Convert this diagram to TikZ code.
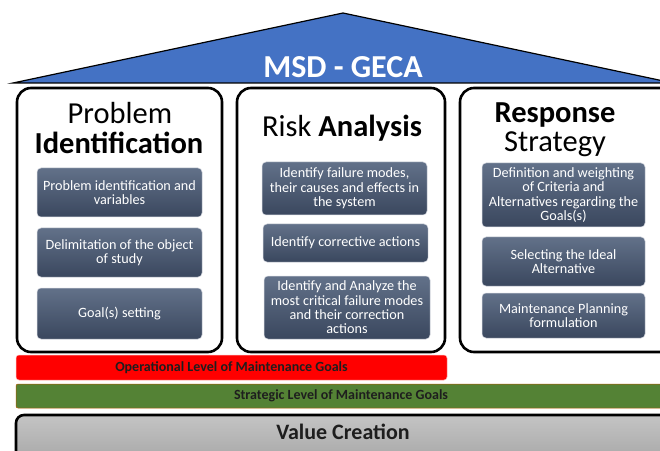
\documentclass[tikz,border=0pt]{standalone}
\usepackage{fontspec}
\setmainfont{Carlito}
\definecolor{roofblue}{HTML}{4472C4}
\definecolor{boxtop}{HTML}{627189}
\definecolor{boxbot}{HTML}{3A475E}
\definecolor{boxedge}{HTML}{D0D4DC}
\definecolor{barred}{HTML}{FF0000}
\definecolor{bargreen}{HTML}{548235}
\definecolor{greentxt}{HTML}{1E1E1E}
\definecolor{graytop}{HTML}{C4C4C4}
\definecolor{graybot}{HTML}{A2A2A2}
\tikzset{
  outerbox/.style={draw=black, line width=2.6pt, rounded corners=14pt, fill=white, inner sep=0pt},
  inbox/.style={rounded corners=4pt, top color=boxtop, bottom color=boxbot, draw=boxedge, line width=0.5pt,
    text=white, align=center, font=\fontsize{14.2}{14.3}\selectfont, inner sep=1pt},
  titlereg/.style={font=\fontsize{30.5}{32}\selectfont, inner sep=0pt, anchor=base},
  titlebold/.style={font=\fontsize{30.5}{32}\selectfont\bfseries, inner sep=0pt, anchor=base},
  bartext/.style={font=\fontsize{14}{15}\selectfont\bfseries, text=greentxt, inner sep=0pt, anchor=base},
}
\begin{document}
\begin{tikzpicture}[x=1pt,y=1pt]
\useasboundingbox (0,0) rectangle (660,450);
\clip (0,0) rectangle (660,450);
% roof
\draw[fill=roofblue, line width=1.2pt] (13,367) -- (343,437) -- (673,367) -- cycle;
\node[font=\fontsize{32}{34}\selectfont\bfseries, text=white, inner sep=0pt, anchor=base] (msd) at (343,372.5) {MSD - GECA};
% outer boxes
\node[outerbox, minimum width=205pt, minimum height=264pt] (pi) at (119.5,230) {};
\node[outerbox, minimum width=208pt, minimum height=264pt] (ra) at (341,230) {};
\node[outerbox, minimum width=220pt, minimum height=264pt] (rs) at (570,230) {};
% titles
\node[titlereg] (pit1) at (120,326) {Problem};
\node[titlebold] (pit2) at (119,296) {Identification};
\node[titlereg] (rat) at (342,313.5) {Risk \textbf{Analysis}};
\node[titlebold] (rst1) at (555,327) {Response};
\node[titlereg] (rst2) at (555,298) {Strategy};
% inner boxes left
\node[inbox, minimum width=165pt, minimum height=49pt] (l1) at (119.5,257.5) {Problem identification and\\variables};
\node[inbox, minimum width=165pt, minimum height=49pt] (l2) at (119.5,197.5) {Delimitation of the object\\of study};
\node[inbox, minimum width=165pt, minimum height=51pt] (l3) at (119.5,136.5) {Goal(s) setting};
% inner boxes middle
\node[inbox, minimum width=165pt, minimum height=53pt] (m1) at (344.5,261.5) {Identify failure modes,\\their causes and effects in\\the system};
\node[inbox, minimum width=165pt, minimum height=38pt] (m2) at (345.5,207) {Identify corrective actions};
\node[inbox, minimum width=166pt, minimum height=63pt] (m3) at (347,142.5) {Identify and Analyze the\\most critical failure modes\\and their correction\\actions};
% inner boxes right
\node[inbox, minimum width=163pt, minimum height=64pt] (r1) at (563.5,255) {Definition and weighting\\of Criteria and\\Alternatives regarding the\\Goals(s)};
\node[inbox, minimum width=163pt, minimum height=49pt] (r2) at (563.5,188.5) {Selecting the Ideal\\Alternative};
\node[inbox, minimum width=163pt, minimum height=45pt] (r3) at (563.5,134.5) {Maintenance Planning\\formulation};
% bars
\node[fill=barred, draw=red!30, line width=0.5pt, rounded corners=3pt, minimum width=431pt, minimum height=25pt, inner sep=0pt] (red) at (231.5,82.5) {};
\node[bartext] (redt) at (231.5,79) {Operational Level of Maintenance Goals};
\node[fill=bargreen, draw=orange!70!black, line width=0.5pt, rounded corners=2pt, minimum width=664pt, minimum height=24pt, inner sep=0pt] (green) at (348,54) {};
\node[bartext] (greent) at (341,51) {Strategic Level of Maintenance Goals};
\node[top color=graytop, bottom color=graybot, draw=black, line width=2.6pt, rounded corners=8pt, minimum width=664pt, minimum height=55pt, inner sep=0pt] (vc) at (348,7.5) {};
\node[font=\fontsize{22}{24}\selectfont\bfseries, text=greentxt, inner sep=0pt, anchor=base] (vct) at (343,11) {Value Creation};
\end{tikzpicture}
\end{document}
